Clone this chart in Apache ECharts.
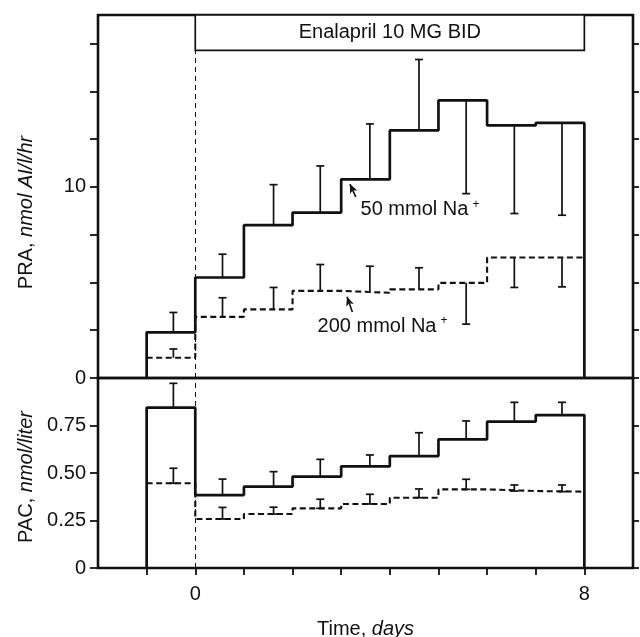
<!DOCTYPE html>
<html>
<head>
<meta charset="utf-8">
<script src="https://cdn.jsdelivr.net/npm/echarts@6/dist/echarts.min.js"></script>
<style>html,body{margin:0;padding:0;background:#fff}#c{width:640px;height:637px}</style>
</head>
<body>
<div id="c"></div>
<script>
// segment start days (each step lasts one day)
const days = [-1, 0, 1, 2, 3, 4, 5, 6, 7];
const errX = [-0.45, 0.56, 1.61, 2.57, 3.59, 4.6, 5.57, 6.56, 7.54];

// PRA, nmol AI/l/hr
const pra50 = [2.39, 5.26, 8.0, 8.66, 10.4, 12.96, 14.53, 13.22, 13.35];
const pra50Err = [3.43, 6.48, 10.12, 11.1, 13.3, 16.67, 9.65, 8.61, 8.52];
const pra200 = [1.06, 3.2, 3.59, 4.56, 4.46, 4.64, 4.98, 6.31, 6.31];
const pra200Err = [1.52, 4.2, 4.74, 5.94, 5.85, 5.77, 2.82, 4.74, 4.77];

// PAC, nmol/liter
const pac50 = [0.844, 0.384, 0.428, 0.481, 0.535, 0.589, 0.677, 0.77, 0.805];
const pac50Err = [0.972, 0.468, 0.507, 0.572, 0.595, 0.712, 0.774, 0.872, 0.872];
const pac200 = [0.446, 0.258, 0.284, 0.314, 0.337, 0.37, 0.414, 0.405, 0.402];
const pac200Err = [0.525, 0.319, 0.32, 0.362, 0.388, 0.416, 0.467, 0.437, 0.437];

const xTicks = [-1, 0, 1, 2, 3, 4, 5, 6, 7, 8];
const xLabels = [0, 8];
const praTicks = [0, 2.5, 5, 7.5, 10, 12.5, 15, 17.5];
const praLabels = [0, 10];
const pacTicks = [0, 0.25, 0.5, 0.75];
const pacLabels = [0, 0.25, 0.5, 0.75];

const drugLabel = 'Enalapril 10 MG BID';
const drugStart = 0, drugEnd = 8, drugBoxBottom = 17.15;

const FONT = '"Liberation Sans", Arial, Helvetica, sans-serif';
const INK = '#111';
const FS = 20;

function stepPts(vals, fromZero) {
  const pts = [];
  if (fromZero) pts.push([days[0], 0]);
  vals.forEach((v, i) => { pts.push([days[i], v]); pts.push([days[i] + 1, v]); });
  if (fromZero) pts.push([days[days.length - 1] + 1, 0]);
  return pts;
}

function errSeries(vals, errs, xi, yi, bothCaps) {
  return {
    type: 'custom', xAxisIndex: xi, yAxisIndex: yi, silent: true, z: 5,
    data: errX.map((x, i) => [x, vals[i], errs[i]]),
    encode: { x: 0, y: [1, 2] },
    renderItem: function (params, api) {
      const p0 = api.coord([api.value(0), api.value(1)]);
      const p1 = api.coord([api.value(0), api.value(2)]);
      const st = { stroke: INK, lineWidth: 1.7 };
      const ch = [
        { type: 'line', shape: { x1: p0[0], y1: p0[1], x2: p1[0], y2: p1[1] }, style: st },
        { type: 'line', shape: { x1: p1[0] - 4, y1: p1[1], x2: p1[0] + 4, y2: p1[1] }, style: st }
      ];
      if (bothCaps) ch.push({ type: 'line', shape: { x1: p0[0] - 4, y1: p0[1], x2: p0[0] + 4, y2: p0[1] }, style: st });
      return { type: 'group', children: ch };
    }
  };
}

const solidStyle = { color: INK, width: 2.7 };
const dashStyle = { color: INK, width: 2.1, type: [6, 3.5] };
const italic = { it: { fontStyle: 'italic', fontFamily: FONT, fontSize: FS, color: INK } };
const supRich = { sup: { fontSize: 12, verticalAlign: 'top', padding: [0, 0, 10, 4], color: INK, fontFamily: FONT } };

const chart = echarts.init(document.getElementById('c'), null, { renderer: 'canvas' });

const baseY = {
  type: 'value', axisLine: { show: false, onZero: false }, splitLine: { show: false },
  axisTick: { show: true, inside: false, length: 8, lineStyle: { color: INK, width: 1.8 } },
  axisLabel: { color: INK, fontFamily: FONT, fontSize: FS, margin: 12 }
};

chart.setOption({
  animation: false,
  textStyle: { fontFamily: FONT },
  grid: [
    { left: 98, right: 7, top: 15, height: 363, show: true, borderColor: INK, borderWidth: 2.6, backgroundColor: 'transparent', outerBoundsMode: 'none', containLabel: false },
    { left: 98, right: 7, top: 378, height: 190, show: true, borderColor: INK, borderWidth: 2.6, backgroundColor: 'transparent', outerBoundsMode: 'none', containLabel: false }
  ],
  xAxis: [
    { gridIndex: 0, type: 'value', min: -2, max: 9, axisLine: { show: false, onZero: false }, axisTick: { show: false }, axisLabel: { show: false }, splitLine: { show: false } },
    { gridIndex: 1, type: 'value', min: -2, max: 9, axisLine: { show: false, onZero: false }, splitLine: { show: false },
      axisTick: { show: true, length: 7, customValues: xTicks, lineStyle: { color: INK, width: 1.8 } },
      axisLabel: { customValues: xLabels, color: INK, fontFamily: FONT, fontSize: FS, margin: 16 },
      name: 'Time, {it|days}', nameLocation: 'middle', nameGap: 51,
      nameTextStyle: { color: INK, fontFamily: FONT, fontSize: FS, rich: italic }
    }
  ],
  yAxis: [
    Object.assign({}, baseY, { gridIndex: 0, min: 0, max: 19,
      axisTick: Object.assign({}, baseY.axisTick, { customValues: praTicks }),
      axisLabel: Object.assign({}, baseY.axisLabel, { customValues: praLabels }),
      name: 'PRA, {it|nmol AI/l/hr}', nameLocation: 'middle', nameGap: 62,
      nameTextStyle: { color: INK, fontFamily: FONT, fontSize: FS, padding: [0, 32, 0, 0], rich: italic }
    }),
    Object.assign({}, baseY, { gridIndex: 1, min: 0, max: 1,
      axisTick: Object.assign({}, baseY.axisTick, { customValues: pacTicks }),
      axisLabel: Object.assign({}, baseY.axisLabel, { customValues: pacLabels, formatter: v => v === 0 ? '0' : v.toFixed(2) }),
      name: 'PAC, {it|nmol/liter}', nameLocation: 'middle', nameGap: 62,
      nameTextStyle: { color: INK, fontFamily: FONT, fontSize: FS, padding: [0, 8, 0, 0], rich: italic }
    }),
    Object.assign({}, baseY, { gridIndex: 0, position: 'right', min: 0, max: 19,
      axisTick: Object.assign({}, baseY.axisTick, { length: 6, customValues: praTicks }),
      axisLabel: { show: false } }),
    Object.assign({}, baseY, { gridIndex: 1, position: 'right', min: 0, max: 1,
      axisTick: Object.assign({}, baseY.axisTick, { length: 6, customValues: pacTicks }),
      axisLabel: { show: false } })
  ],
  series: [
    { type: 'line', xAxisIndex: 0, yAxisIndex: 0, data: stepPts(pra50, true), showSymbol: false, symbol: 'none', lineStyle: solidStyle, z: 4,
      markArea: { silent: true, z: 1,
        itemStyle: { color: '#fff', borderColor: INK, borderWidth: 1.7 },
        label: { show: true, position: 'inside', color: INK, fontFamily: FONT, fontSize: FS },
        data: [[{ name: drugLabel, coord: [drugStart, drugBoxBottom] }, { coord: [drugEnd, 19] }]] },
      markPoint: { silent: true, symbol: 'circle', symbolSize: 0,
        label: { show: true, position: 'inside', color: INK, fontFamily: FONT, fontSize: FS,
          formatter: p => p.name + '{sup|+}', rich: supRich },
        data: [{ name: '50 mmol Na', coord: [4.62, 8.8] }] },
      markLine: { silent: true, symbol: ['none', 'arrow'], symbolSize: [6, 9], label: { show: false },
        lineStyle: { color: INK, width: 1.6, type: 'solid' },
        data: [[{ coord: [3.3, 9.48] }, { coord: [3.18, 10.15] }]] }
    },
    { type: 'line', xAxisIndex: 0, yAxisIndex: 0, data: stepPts(pra200, false), showSymbol: false, symbol: 'none', lineStyle: dashStyle, z: 4,
      markPoint: { silent: true, symbol: 'circle', symbolSize: 0,
        label: { show: true, position: 'inside', color: INK, fontFamily: FONT, fontSize: FS,
          formatter: p => p.name + '{sup|+}', rich: supRich },
        data: [{ name: '200 mmol Na', coord: [3.85, 2.72] }] },
      markLine: { silent: true, symbol: ['none', 'arrow'], symbolSize: [6, 9], label: { show: false },
        lineStyle: { color: INK, width: 1.6, type: 'solid' },
        data: [
          [{ coord: [3.23, 3.46] }, { coord: [3.12, 4.25] }],
          [{ coord: [0, 0], lineStyle: { width: 1, type: [5, 4] }, symbol: 'none' }, { coord: [0, drugBoxBottom], symbol: 'none' }]
        ] }
    },
    errSeries(pra50, pra50Err, 0, 0, false),
    errSeries(pra200, pra200Err, 0, 0, false),
    { type: 'line', xAxisIndex: 1, yAxisIndex: 1, data: stepPts(pac50, true), showSymbol: false, symbol: 'none', lineStyle: solidStyle, z: 4 },
    { type: 'line', xAxisIndex: 1, yAxisIndex: 1, data: stepPts(pac200, false), showSymbol: false, symbol: 'none', lineStyle: dashStyle, z: 4,
      markLine: { silent: true, symbol: 'none', label: { show: false },
        lineStyle: { color: INK, width: 1, type: [5, 4] },
        data: [[{ coord: [0, 0] }, { coord: [0, 1] }]] } },
    errSeries(pac50, pac50Err, 1, 1, false),
    errSeries(pac200, pac200Err, 1, 1, true)
  ]
});
</script>
</body>
</html>
